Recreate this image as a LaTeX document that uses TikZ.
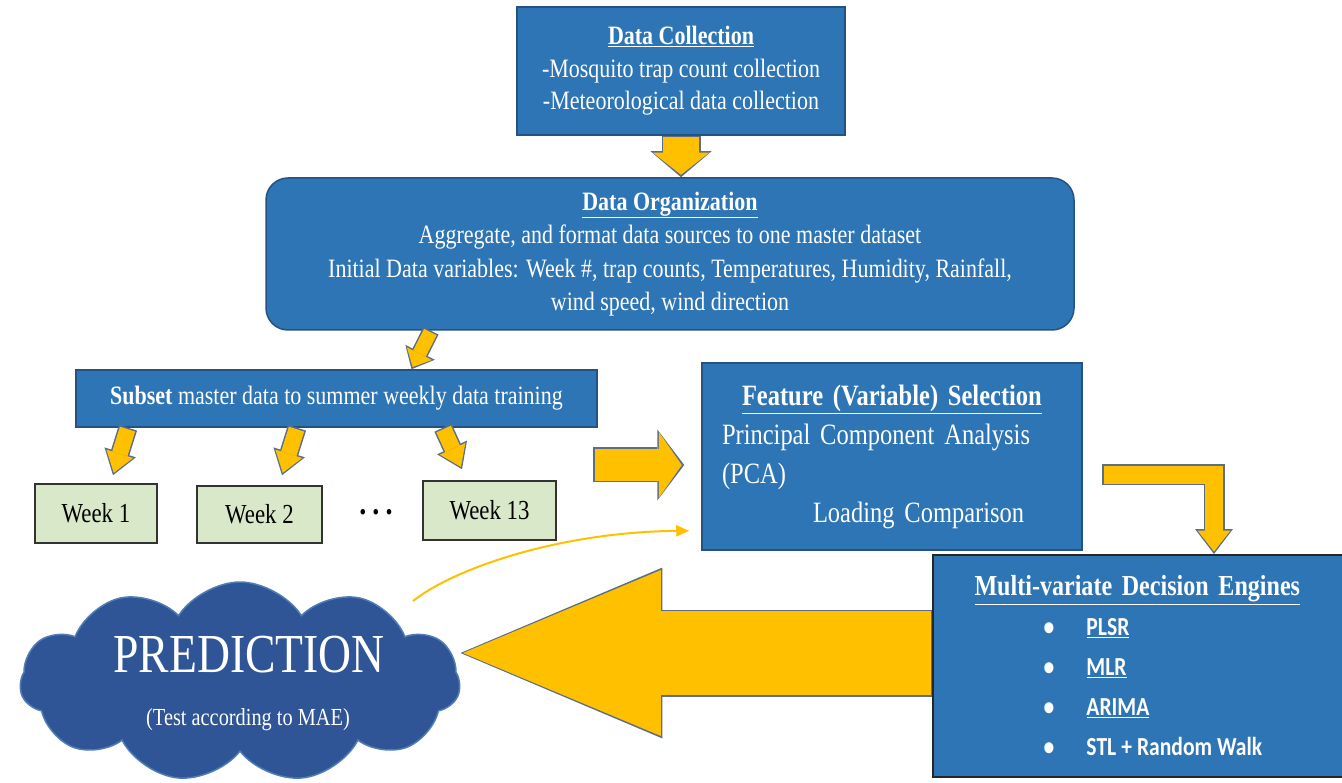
\documentclass[tikz,border=0pt]{standalone}
\usepackage{fontspec}
\setmainfont{Liberation Serif}[FakeStretch=0.83]
\newfontfamily\calibri{Carlito}[FakeStretch=0.83]
\usetikzlibrary{shapes,arrows.meta,calc}

\newcommand{\fatarrow}[4]{%
  \pgfmathsetmacro{\shaftout}{#1+3}%
  \pgfmathsetmacro{\headout}{#2+5}%
  \pgfmathsetmacro{\lenout}{#3+4}%
  \draw [line width=\shaftout pt, draw=arrowedge, line join=miter,
    -{Triangle[width=\headout pt, length=\lenout pt, line width=0pt]}] #4;
  \draw [line width=#1pt, draw=arrowfill, line join=miter, shorten >=2.5pt, shorten <=1.5pt,
    -{Triangle[width=#2pt, length=#3pt, line width=0pt]}] #4;
}
\newcommand{\engineitem}[1]{\hspace*{98pt}\makebox[43pt][l]{\calibri\bfseries\fontsize{26}{40}\selectfont •}{\calibri\bfseries\fontsize{26}{40}\selectfont\spaceskip=5pt #1}}

\begin{document}
\begin{tikzpicture}[x=1pt, y=-1pt,
  bluebox/.style={draw=boxedge, line width=1.5pt, fill=boxblue, text=white, align=center, inner sep=0pt,
    font=\fontsize{26.5}{32.5}\selectfont},
  weekbox/.style={draw=black!80, line width=1.5pt, fill=weekgreen, inner sep=0pt,
    font=\fontsize{27.5}{30}\selectfont},
  thinarrow/.style={draw=arrowfill, line width=2pt, -{Triangle[width=11pt, length=13pt]}}]

\definecolor{boxblue}{RGB}{46,117,182}
\definecolor{boxedge}{RGB}{37,82,128}
\definecolor{cloudblue}{RGB}{47,85,151}
\definecolor{cloudedge}{RGB}{80,125,180}
\definecolor{arrowfill}{RGB}{255,192,0}
\definecolor{arrowedge}{RGB}{90,110,140}
\definecolor{weekgreen}{RGB}{216,232,200}

\useasboundingbox (0,0) rectangle (1342,783);

\node (dc) [bluebox, minimum width=328pt, minimum height=128pt] at (681,71)
  {\underline{\textbf{Data Collection}}\\-Mosquito trap count collection\\-Meteorological data collection};

\node (do) [bluebox, rounded corners=22pt, minimum width=808pt, minimum height=152pt,
  font=\fontsize{26.5}{33.5}\selectfont] at (670,254)
  {\underline{\textbf{Data Organization}}\\Aggregate, and format data sources to one master dataset\\
   Initial Data variables: Week \#, trap counts, Temperatures, Humidity, Rainfall,\\wind speed, wind direction};

\node (ss) [bluebox, minimum width=521pt, minimum height=57pt] at (336.5,398.5)
  {\textbf{Subset} master data to summer weekly data training};

\node (w1) [weekbox, minimum width=122pt, minimum height=59pt] at (96,513.5) {Week 1};
\node (w2) [weekbox, minimum width=125pt, minimum height=57pt] at (259.5,514.5) {Week 2};
\node (w13) [weekbox, minimum width=133pt, minimum height=59pt] at (489.5,510.5) {Week 13};
\node (dots) [font=\fontsize{34}{34}\selectfont\bfseries] at (376,512) {.\hspace{6pt}.\hspace{6pt}.};

\node (fs) [bluebox, minimum width=380pt, minimum height=187pt, text width=340pt, align=left,
  font=\fontsize{29.5}{39}\selectfont] at (892,456.5)
  {\hspace*{20pt}\underline{\textbf{Feature (Variable) Selection}}\\
   \makebox[340pt][s]{Principal Component Analysis}\\
   (PCA)\\
   \hspace*{91pt}Loading Comparison};

\node (me) [bluebox, draw=black!85, line width=2pt, minimum width=415pt, minimum height=222pt,
  text width=390pt, align=left, font=\fontsize{29}{40}\selectfont] at (1140.5,666)
  {\hspace*{29pt}\underline{\textbf{Multi-variate Decision Engines}}\\
   \engineitem{\underline{PLSR}}\\
   \engineitem{\underline{MLR}}\\
   \engineitem{\underline{ARIMA}}\\
   \engineitem{STL + Random Walk}};

\node (pred) [cloud, cloud puffs=11, cloud puff arc=115, minimum width=440pt, minimum height=200pt,
  fill=cloudblue, draw=cloudedge, line width=1.5pt] at (240,682) {};
\node (predtxt) [text=white, font=\fontsize{55}{55}\selectfont] at (249,655) {PREDICTION};
\node (maetxt) [text=white, font=\fontsize{24.5}{26}\selectfont] at (248,720) {(Test according to MAE)};

\coordinate (rstart) at (593,465);
\coordinate (lstart) at (1102,475);
\coordinate (cstart) at (413,601);

\fatarrow{36}{56}{22}{(dc.south) -- (dc.south |- do.north)}
\fatarrow{14}{28}{15}{([xshift=-239pt]do.south) -- ([xshift=75pt]ss.north)}
\fatarrow{16}{28}{20}{([xshift=-208.5pt]ss.south) -- ([shift={(17pt,8pt)}]w1.north)}
\fatarrow{16}{28}{20}{([xshift=-39.5pt]ss.south) -- ([shift={(22.5pt,10pt)}]w2.north)}
\fatarrow{16}{28}{20}{([xshift=106.5pt]ss.south) -- ([shift={(-27.5pt,11pt)}]w13.north)}
\fatarrow{32}{66}{23}{(rstart) -- ($(rstart -| fs.west)+(-17,0)$)}
\fatarrow{18}{33}{21}{(lstart) -| ([xshift=73.5pt]me.north)}
\fatarrow{84}{166}{198}{([yshift=13pt]me.west) -- ([yshift=13pt]me.west -| pred.east)}

\draw [thinarrow] (cstart) .. controls (455,568) and (560,532) .. ($(fs.south west)+(-12,-20)$);

\end{tikzpicture}
\end{document}
